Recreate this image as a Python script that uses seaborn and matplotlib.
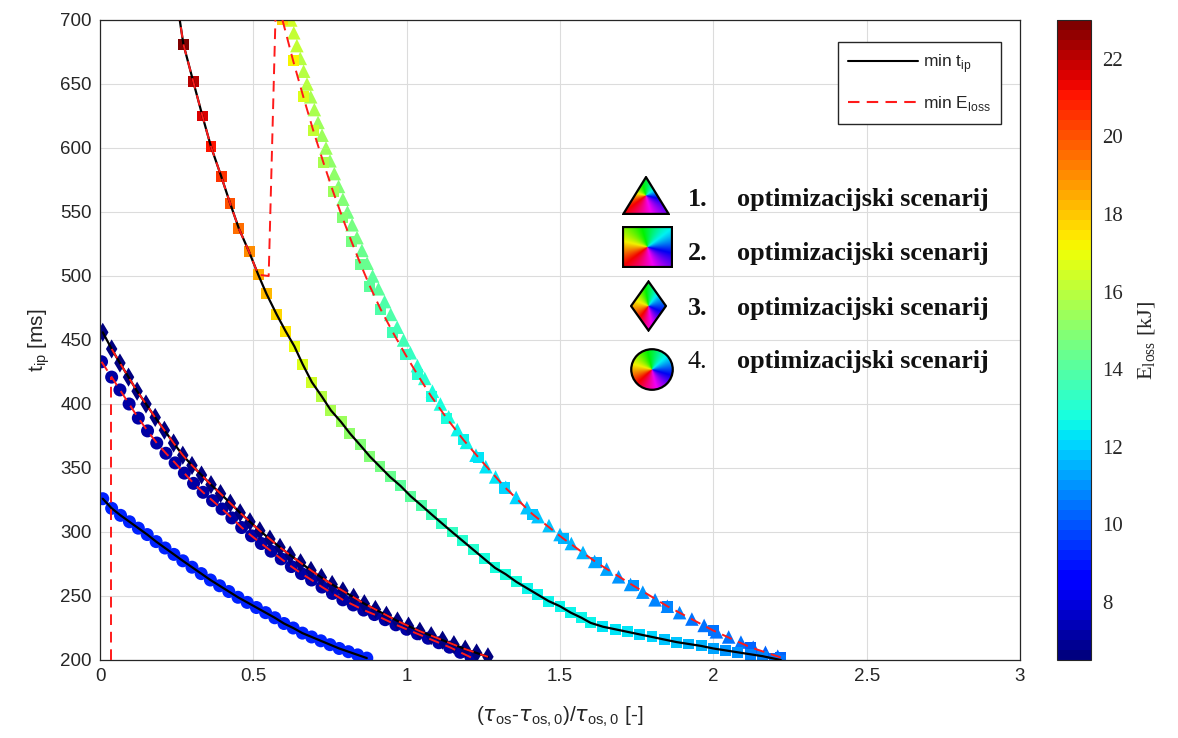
import numpy as np
import matplotlib
matplotlib.use("Agg")
import matplotlib.pyplot as plt
import seaborn as sns
from matplotlib.lines import Line2D
from matplotlib.patches import Polygon, Rectangle, Ellipse
from matplotlib.colors import hsv_to_rgb

# ---- data ----
# scenario 2, left branch (squares, min t_ip)
sq_left_x = [0.255, 0.272, 0.304, 0.334, 0.362, 0.395, 0.424, 0.453, 0.486, 0.516, 0.543, 0.576, 0.605, 0.634,
             0.661, 0.691, 0.723, 0.753, 0.786, 0.815, 0.848, 0.88, 0.913, 0.946, 0.98, 1.013, 1.047, 1.08,
             1.114, 1.148, 1.183, 1.218, 1.253, 1.288, 1.323, 1.358, 1.393, 1.428, 1.463, 1.5, 1.535, 1.57,
             1.6, 1.64, 1.68, 1.72, 1.76, 1.8, 1.84, 1.88, 1.92, 1.96, 2.0, 2.04, 2.08, 2.12, 2.16, 2.2, 2.22]
sq_left_y = [708, 681, 652, 625, 601, 578, 557, 537, 519, 501, 486, 470, 457, 445,
             431, 417, 406, 395, 386, 377, 368, 359, 351, 343, 336, 328, 321, 314,
             307, 300, 293, 286, 279, 272, 267, 261, 256, 251, 246, 242, 237, 233,
             229, 226, 224, 222, 220, 218, 216, 214, 212.5, 211, 209, 207.5, 206, 204.5, 203, 201, 200]
sq_left_e = [23.0, 22.8, 22.2, 21.6, 21.0, 20.5, 20.0, 19.5, 19.0, 18.6, 18.2, 17.8, 17.4, 17.0,
             16.6, 16.3, 16.0, 15.7, 15.4, 15.2, 15.0, 14.8, 14.6, 14.4, 14.2, 14.0, 13.8, 13.6,
             13.4, 13.3, 13.1, 13.0, 12.9, 12.8, 12.7, 12.7, 12.6, 12.6, 12.6, 12.5, 12.5, 12.5,
             12.5, 12.4, 12.3, 12.2, 12.1, 12.0, 11.9, 11.7, 11.6, 11.4, 11.3, 11.1, 11.0, 10.8, 10.7, 10.5, 10.5]

# scenario 2, right branch (squares, min E_loss)
sq_right_x = [0.595, 0.63, 0.663, 0.695, 0.728, 0.76, 0.79, 0.82, 0.85, 0.88, 0.915, 0.955, 0.995, 1.035,
              1.08, 1.13, 1.185, 1.235, 1.32, 1.41, 1.51, 1.62, 1.74, 1.85, 2.0, 2.12, 2.22]
sq_right_y = [700, 668, 640, 614, 589, 566, 546, 527, 509, 492, 474, 456, 439, 423,
              406, 389, 372, 358, 335, 314, 295, 276, 258, 242, 223, 210, 202]
sq_right_e = [17.6, 17.1, 16.6, 16.1, 15.7, 15.3, 15.0, 14.7, 14.4, 14.2, 13.9, 13.6, 13.3, 13.1,
              12.9, 12.7, 12.5, 12.3, 12.0, 11.8, 11.6, 11.3, 11.0, 10.8, 10.5, 10.3, 10.2]

# scenario 2, red dashed (min E_loss) jump between branches
jump_x = [0.255, 0.272, 0.304, 0.334, 0.362, 0.395, 0.424, 0.453, 0.486, 0.516, 0.55, 0.572]
jump_y = [708, 681, 652, 625, 601, 578, 557, 537, 519, 501, 500, 700]

# scenario 1 (triangles)
tri_x = [0.622, 0.632, 0.642, 0.653, 0.664, 0.675, 0.687, 0.699, 0.711, 0.724, 0.737, 0.75, 0.764, 0.778,
         0.792, 0.807, 0.822, 0.838, 0.854, 0.871, 0.889, 0.908, 0.928, 0.948, 0.969, 0.99, 1.012, 1.035,
         1.059, 1.084, 1.11, 1.137, 1.165, 1.195, 1.226, 1.258, 1.29, 1.323, 1.357, 1.392, 1.428, 1.464,
         1.5, 1.537, 1.575, 1.613, 1.652, 1.691, 1.73, 1.77, 1.81, 1.85, 1.89, 1.93, 1.97, 2.01, 2.05,
         2.09, 2.13, 2.17, 2.21]
tri_y = [700, 690, 680, 670, 660, 650, 640, 630, 620, 610, 600, 590, 580, 570,
         560, 550, 540, 530, 520, 510, 500, 490, 480, 470, 460, 450, 440, 430,
         420, 410, 400, 390, 380, 370, 360, 351, 343, 335, 327, 319, 312, 305,
         298, 291, 284, 277, 271, 265, 259, 253, 247, 242, 237, 232, 227, 222, 218,
         214, 210, 206, 203]
tri_e = [16.3, 16.2, 16.1, 16.0, 15.9, 15.8, 15.7, 15.6, 15.5, 15.4, 15.3, 15.2, 15.1, 15.0,
         14.8, 14.7, 14.6, 14.5, 14.4, 14.3, 14.1, 14.0, 13.9, 13.8, 13.6, 13.5, 13.3, 13.2,
         13.0, 12.9, 12.8, 12.7, 12.6, 12.5, 12.4, 12.3, 12.2, 12.1, 12.0, 11.9, 11.8, 11.7,
         11.6, 11.5, 11.4, 11.3, 11.2, 11.1, 11.0, 10.9, 10.8, 10.8, 10.7, 10.6, 10.5, 10.5, 10.4,
         10.4, 10.3, 10.3, 10.2]

# scenario 3 (diamonds)
dia_x = [0.009, 0.038, 0.065, 0.093, 0.121, 0.15, 0.18, 0.21, 0.24, 0.27, 0.3, 0.331, 0.362, 0.393,
         0.425, 0.457, 0.489, 0.521, 0.554, 0.587, 0.62, 0.654, 0.688, 0.722, 0.757, 0.792, 0.827,
         0.862, 0.898, 0.934, 0.97, 1.006, 1.043, 1.08, 1.117, 1.154, 1.191, 1.228, 1.265]
dia_y = [456, 443, 432, 421, 410, 400, 389.5, 379.5, 369.5, 360, 352, 344.5, 337, 330,
         322.5, 315, 308, 301, 294.5, 288, 282, 276, 270, 264.5, 259, 254, 249,
         244, 239.5, 235, 230.5, 226.5, 222.5, 219, 215.5, 212, 208.5, 205.5, 202.5]
dia_e = [6.7] * len(dia_x)

# scenario 4, upper branch (circles, min E_loss)
c_up_x = [0.005, 0.038, 0.065, 0.095, 0.125, 0.155, 0.185, 0.215, 0.245, 0.275, 0.305, 0.336, 0.367,
          0.398, 0.43, 0.462, 0.494, 0.526, 0.558, 0.591, 0.624, 0.657, 0.69, 0.724, 0.758, 0.792,
          0.826, 0.86, 0.895, 0.93, 0.965, 1.0, 1.035, 1.07, 1.105, 1.14, 1.175, 1.21]
c_up_y = [433, 421, 411, 400, 389, 379, 369.5, 361.5, 354, 346, 338, 331, 324.5,
          318, 311, 303.5, 297, 291, 285, 279, 273, 267.5, 262.5, 257, 252, 247,
          243, 239, 235.5, 231.5, 227.5, 224, 220.5, 217, 213.5, 210, 206, 202]
c_up_e = [7.2] * len(c_up_x)

# scenario 4, lower branch (circles, min t_ip)
c_lo_x = [0.009, 0.038, 0.067, 0.096, 0.125, 0.154, 0.183, 0.212, 0.241, 0.27, 0.3, 0.33, 0.36, 0.39,
          0.42, 0.45, 0.48, 0.51, 0.54, 0.57, 0.6, 0.63, 0.66, 0.69, 0.72, 0.75, 0.78, 0.81, 0.84, 0.87]
c_lo_y = [326, 318.5, 313, 308, 303, 298, 292.5, 287.5, 282.5, 277.5, 272.5, 267.5, 262.5, 258,
          253.5, 249, 245, 241, 237, 233, 228.5, 225, 221, 218, 215, 212, 209, 206.5, 204, 201.5]
c_lo_e = [9.3] * len(c_lo_x)

# scenario 4, red dashed vertical part
vert_x = [0.035, 0.035]
vert_y = [200, 421]

scenario_nums = ["1.", "2.", "3.", "4."]
scenario_text = "optimizacijski scenarij"
cbar_ticks = [8, 10, 12, 14, 16, 18, 20, 22]
e_min, e_max = 6.5, 23.0

# ---- style ----
sns.set_style("whitegrid")
plt.rcParams["font.family"] = ["Liberation Sans", "DejaVu Sans"]
plt.rcParams["mathtext.fontset"] = "dejavusans"
grey = "#262626"

fig = plt.figure(figsize=(11.78, 7.38), dpi=100)
ax = fig.add_axes([100 / 1178, 78 / 738, 920 / 1178, 640 / 738])

cmap = plt.get_cmap("jet", 64)
norm = plt.Normalize(e_min, e_max)

def dots(x, y, e, marker, s):
    sns.scatterplot(x=x, y=y, hue=e, palette=cmap, hue_norm=norm, marker=marker, s=s,
                    linewidth=0, legend=False, ax=ax, zorder=2)

dots(tri_x, tri_y, tri_e, "^", 95)
dots(sq_right_x, sq_right_y, sq_right_e, "s", 62)
dots(sq_left_x, sq_left_y, sq_left_e, "s", 62)
dots(c_up_x, c_up_y, c_up_e, "o", 88)
dots(c_lo_x, c_lo_y, c_lo_e, "o", 88)
dots(dia_x, dia_y, dia_e, "d", 95)

# min t_ip lines (black)
for lx, ly in [(sq_left_x, sq_left_y), (dia_x, dia_y), (c_lo_x, c_lo_y)]:
    sns.lineplot(x=lx, y=ly, sort=False, estimator=None, color="black", linewidth=1.6, ax=ax, zorder=3)

# min E_loss lines (red dashed)
for lx, ly in [(jump_x, jump_y), (sq_right_x, sq_right_y), (dia_x[1:], dia_y[1:]),
               (c_up_x, c_up_y), (vert_x, vert_y)]:
    sns.lineplot(x=lx, y=ly, sort=False, estimator=None, color="#ff1a1a", linewidth=1.4,
                 dashes=False, ax=ax, zorder=4).lines[-1].set_dashes((5.5, 3.5))

ax.set_xlim(0, 3)
ax.set_ylim(200, 700)
ax.set_xticks([0, 0.5, 1, 1.5, 2, 2.5, 3])
ax.set_xticklabels(["0", "0.5", "1", "1.5", "2", "2.5", "3"])
ax.set_yticks(np.arange(200, 701, 50))
ax.tick_params(direction="in", length=5, width=0.8, colors=grey, labelsize=13.5, pad=6)
ax.grid(True, color="#dcdcdc", linewidth=0.8)
for sp in ax.spines.values():
    sp.set_visible(True)
    sp.set_color(grey)
    sp.set_linewidth(0.9)

ax.set_ylabel(r"t$_\mathregular{ip}$ [ms]", fontsize=15, color=grey, labelpad=6)
ax.set_xlabel(r"($\tau_\mathregular{os}$-$\tau_\mathregular{os,0}$)/$\tau_\mathregular{os,0}$ [-]",
              fontsize=15, color=grey, labelpad=14)

handles = [Line2D([], [], color="black", linewidth=1.5),
           Line2D([], [], color="#ff1a1a", linewidth=1.5, dashes=(5.5, 3.5))]
leg = ax.legend(handles, [r"min t$_\mathregular{ip}$", r"min E$_\mathregular{loss}$"],
                loc="upper right", bbox_to_anchor=(1 - 19 / 920, 1 - 22 / 640), borderaxespad=0,
                fontsize=12.5, handlelength=4.0, handletextpad=0.3, fancybox=False, framealpha=1,
                edgecolor=grey, labelspacing=1.1, borderpad=0.6)
leg.get_frame().set_linewidth(1.0)

# ---- colorbar ----
cax = fig.add_axes([1057 / 1178, 78 / 738, 34 / 1178, 640 / 738])
sm = plt.cm.ScalarMappable(norm=norm, cmap=cmap)
cb = fig.colorbar(sm, cax=cax)
cb.set_ticks(cbar_ticks)
cb.outline.set_edgecolor(grey)
cax.tick_params(direction="in", length=5, colors=grey, labelsize=15, pad=8)
for t in cax.get_yticklabels():
    t.set_family(["Liberation Serif"])
cb.set_label(r"E$_\mathregular{loss}$ [kJ]", fontsize=16, family=["Liberation Serif"],
             color=grey, labelpad=10)

# ---- gradient marker legend ----
yy, xx = np.mgrid[-1:1:300j, -1:1:300j]
hue = (0.62 - np.arctan2(yy, xx) / (2 * np.pi)) % 1
grad = hsv_to_rgb(np.dstack([hue, np.ones_like(hue), np.full_like(hue, 0.95)]))

shapes = [
    ([622 / 1178, 523 / 738, 48 / 1178, 39 / 738],
     Polygon([(-1, -1), (1, -1), (0, 1)], closed=True)),
    ([622 / 1178, 470 / 738, 51 / 1178, 42 / 738],
     Rectangle((-1, -1), 2, 2)),
    ([630 / 1178, 406 / 738, 37 / 1178, 52 / 738],
     Polygon([(0, 1), (1, 0), (0, -1), (-1, 0)], closed=True)),
    ([630 / 1178, 347 / 738, 44 / 1178, 43 / 738],
     Ellipse((0, 0), 2, 2)),
]
for rect, patch in shapes:
    iax = fig.add_axes(rect)
    iax.set_xlim(-1.06, 1.06)
    iax.set_ylim(-1.06, 1.06)
    iax.axis("off")
    im = iax.imshow(grad, extent=(-1, 1, -1, 1), origin="lower", aspect="auto")
    patch.set_facecolor("none")
    patch.set_edgecolor("black")
    patch.set_linewidth(1.6)
    iax.add_patch(patch)
    im.set_clip_path(patch)

row_base = [206, 260, 315, 368]
for num, yb in zip(scenario_nums, row_base):
    w = "normal" if num == "4." else "bold"
    fig.text(688 / 1178, 1 - yb / 738, num, family=["Liberation Serif"], weight=w,
             fontsize=18.8, va="baseline", color="#111111")
    fig.text(737 / 1178, 1 - yb / 738, scenario_text, family=["Liberation Serif"], weight="bold",
             fontsize=18.8, va="baseline", color="#111111")

fig.savefig("out.png", dpi=100)
